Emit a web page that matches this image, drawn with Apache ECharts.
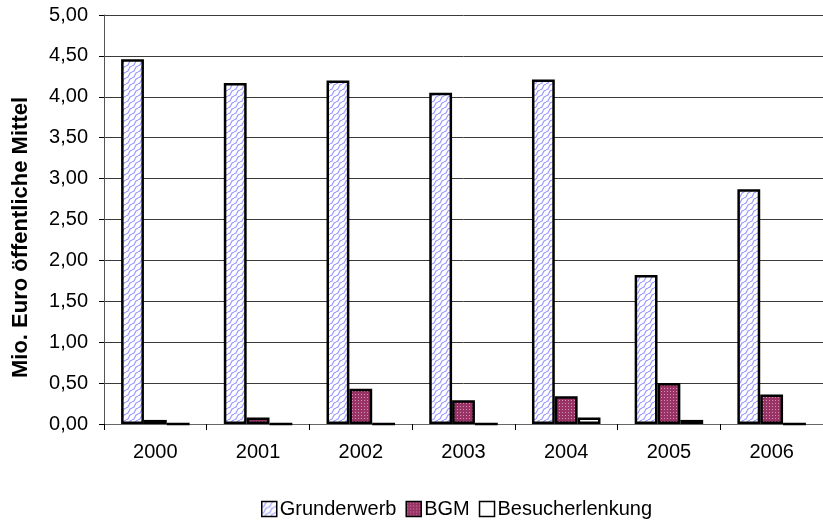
<!DOCTYPE html>
<html>
<head>
<meta charset="utf-8">
<script src="https://cdn.jsdelivr.net/npm/echarts@6/dist/echarts.min.js"></script>
<style>
  html, body { margin: 0; padding: 0; background: #fff; }
  #chart { width: 823px; height: 524px; }
</style>
</head>
<body>
<div id="chart"></div>
<script>
// Öffentliche Mittel pro Jahr (Mio. Euro)
const years = ['2000', '2001', '2002', '2003', '2004', '2005', '2006'];
const grunderwerb = [4.46, 4.17, 4.20, 4.05, 4.21, 1.82, 2.87];
const bgm = [0.05, 0.08, 0.43, 0.29, 0.34, 0.50, 0.36];
const besucherlenkung = [0, 0, 0, 0, 0.08, 0.05, 0];
const seriesNames = ['Grunderwerb', 'BGM', 'Besucherlenkung'];

// Fill patterns for the bars
function wavePattern() {
  const c = document.createElement('canvas');
  c.width = 6; c.height = 6;
  const g = c.getContext('2d');
  g.fillStyle = '#ffffff';
  g.fillRect(0, 0, 6, 6);
  g.strokeStyle = '#9c9cff';
  g.lineWidth = 1.2;
  g.beginPath();
  g.moveTo(0, 6); g.lineTo(2, 5); g.lineTo(3, 3); g.lineTo(4, 1); g.lineTo(6, 0);
  g.stroke();
  g.beginPath();
  g.moveTo(-3, 3); g.lineTo(0, 0);
  g.moveTo(6, 6); g.lineTo(9, 3);
  g.stroke();
  return { image: c, repeat: 'repeat' };
}
function dotPattern() {
  const c = document.createElement('canvas');
  c.width = 3; c.height = 3;
  const g = c.getContext('2d');
  g.fillStyle = '#993366';
  g.fillRect(0, 0, 3, 3);
  g.fillStyle = '#cf92b0';
  g.fillRect(1, 1, 1, 1);
  return { image: c, repeat: 'repeat' };
}

const fmt = v => v.toFixed(2).replace('.', ',');
const font = 'Liberation Sans, Arial, sans-serif';

const chart = echarts.init(document.getElementById('chart'), null, { renderer: 'canvas' });
const borderStyle = { borderColor: '#000', borderWidth: 2.5 };

chart.setOption({
  animation: false,
  backgroundColor: '#fff',
  grid: { left: 104, right: -11, top: 15, bottom: 100, containLabel: false },
  legend: {
    bottom: 0,
    left: 256,
    icon: 'rect',
    itemWidth: 15,
    itemHeight: 15,
    itemGap: 9,
    itemStyle: { borderColor: '#000', borderWidth: 1.5 },
    textStyle: { fontFamily: font, fontSize: 20, color: '#000', padding: [0, 0, 0, -2] },
    data: seriesNames
  },
  xAxis: {
    type: 'category',
    data: years,
    axisLine: { lineStyle: { color: '#666', width: 1 } },
    axisTick: { show: true, length: 6, lineStyle: { color: '#000' } },
    axisLabel: { fontFamily: font, fontSize: 20, color: '#000', margin: 18 }
  },
  yAxis: {
    type: 'value',
    min: 0, max: 5, interval: 0.5,
    name: 'Mio. Euro öffentliche Mittel',
    nameLocation: 'middle',
    nameGap: 72,
    nameTextStyle: { fontFamily: font, fontSize: 22, fontWeight: 'bold', color: '#000', padding: [0, 36, 0, 0] },
    axisLine: { show: true, lineStyle: { color: '#555', width: 1 } },
    axisTick: { show: true, inside: false, length: 5, lineStyle: { color: '#000' } },
    axisLabel: { fontFamily: font, fontSize: 20, color: '#000', margin: 16, formatter: fmt },
    splitLine: { lineStyle: { color: '#3a3a3a', width: 1 } }
  },
  series: [
    {
      name: seriesNames[0], type: 'bar', data: grunderwerb,
      barGap: '0%', barCategoryGap: '33.3%',
      itemStyle: Object.assign({ color: wavePattern() }, borderStyle)
    },
    {
      name: seriesNames[1], type: 'bar', data: bgm,
      itemStyle: Object.assign({ color: dotPattern() }, borderStyle)
    },
    {
      name: seriesNames[2], type: 'bar', data: besucherlenkung,
      itemStyle: Object.assign({ color: '#ffffff' }, borderStyle)
    }
  ]
});
</script>
</body>
</html>
